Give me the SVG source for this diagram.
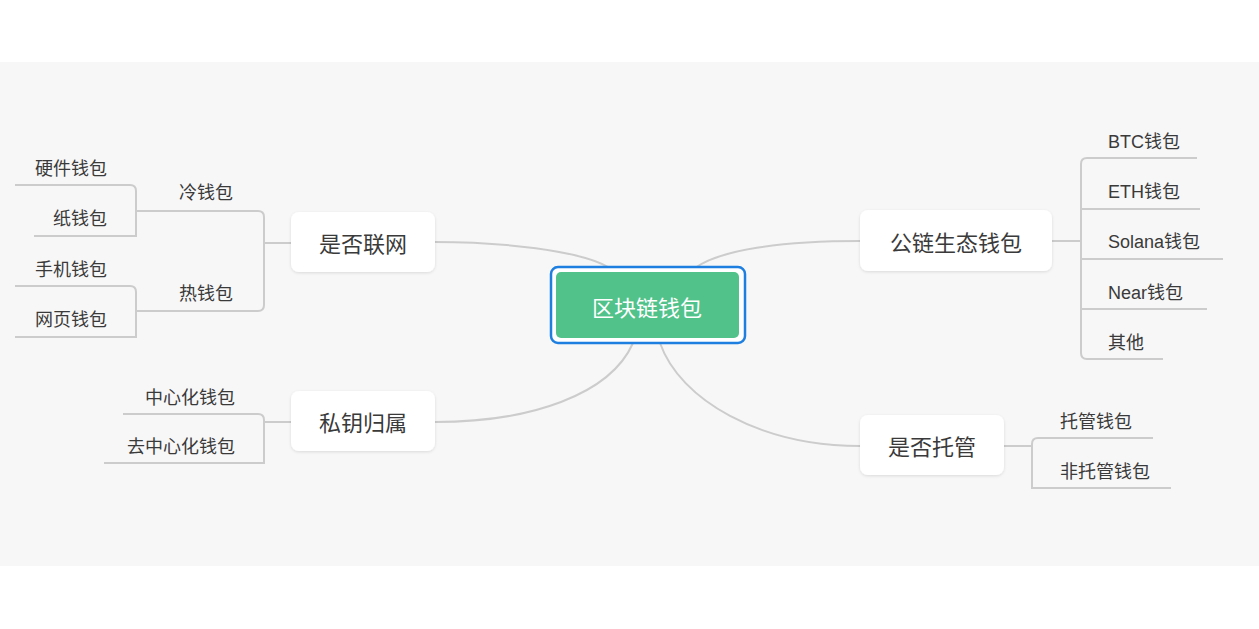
<svg xmlns="http://www.w3.org/2000/svg" width="1259" height="629" viewBox="0 0 1259 629">
<defs>
<style>
text{font-family:"Liberation Sans","Noto Sans CJK SC",sans-serif;fill:#3a3a3a}
.s{font-size:18px}
.m{font-size:22px}
.c{stroke:#cccccc;stroke-width:2;fill:none}
.b{fill:#fff;filter:url(#sh)}
</style>
<filter id="sh" x="-10%" y="-10%" width="120%" height="130%"><feDropShadow dx="0" dy="1" stdDeviation="1.5" flood-color="#000" flood-opacity="0.12"/></filter>
</defs>
<rect width="1259" height="629" fill="#fff"/>
<rect x="0" y="62" width="1259" height="504" fill="#f7f7f7"/>
<g id="connectors" class="c">
<path d="M610 268 C580 250 500 242 435 242"/>
<path d="M695 268 C720 250 780 241 860 241"/>
<path d="M633 343 C610 395 530 422 435 422"/>
<path d="M660 343 C680 400 760 446 860 446"/>
<path d="M291 243 H264 M137 211 H258 Q264 211 264 217 V305 Q264 311 258 311 H137"/>
<path d="M15 185 H130 Q136 185 136 191 V236 H34 M136 211 H137"/>
<path d="M15 286 H130 Q136 286 136 292 V337 H15"/>
<path d="M291 422 H264 M123 414 H258 Q264 414 264 420 V463 H104"/>
<path d="M1052 241 H1081 M1197 158 H1087 Q1081 158 1081 164 V353 Q1081 359 1087 359 H1163 M1081 209 H1200 M1081 259 H1223 M1081 309 H1207"/>
<path d="M1004 446 H1032 M1153 438 H1038 Q1032 438 1032 444 V488 H1171"/>
</g>
<g id="root">
<rect x="551" y="267" width="194" height="76" rx="7" fill="#fff" stroke="#1f7fe0" stroke-width="2.5"/>
<rect x="556" y="272" width="183" height="66" rx="5" fill="#50c28a"/>
<text x="647" y="316" text-anchor="middle" class="m" style="fill:#fff">区块链钱包</text>
</g>
<g id="n-online"><rect class="b" x="291" y="212" width="144" height="60" rx="8"/><text x="363" y="252" text-anchor="middle" class="m">是否联网</text></g>
<g id="n-key"><rect class="b" x="291" y="391" width="144" height="60" rx="8"/><text x="363" y="431" text-anchor="middle" class="m">私钥归属</text></g>
<g id="n-chain"><rect class="b" x="860" y="210" width="192" height="61" rx="8"/><text x="956" y="251" text-anchor="middle" class="m">公链生态钱包</text></g>
<g id="n-custody"><rect class="b" x="860" y="415" width="144" height="60" rx="8"/><text x="932" y="455" text-anchor="middle" class="m">是否托管</text></g>
<g id="leaves-left" class="s">
<text x="206" y="199" text-anchor="middle">冷钱包</text>
<text x="206" y="300" text-anchor="middle">热钱包</text>
<text x="107" y="175" text-anchor="end">硬件钱包</text>
<text x="107" y="225" text-anchor="end">纸钱包</text>
<text x="107" y="276" text-anchor="end">手机钱包</text>
<text x="107" y="326" text-anchor="end">网页钱包</text>
<text x="235" y="404" text-anchor="end">中心化钱包</text>
<text x="235" y="453" text-anchor="end">去中心化钱包</text>
</g>
<g id="leaves-right" class="s">
<text x="1108" y="148">BTC钱包</text>
<text x="1108" y="198">ETH钱包</text>
<text x="1108" y="248">Solana钱包</text>
<text x="1108" y="299">Near钱包</text>
<text x="1108" y="349">其他</text>
<text x="1060" y="428">托管钱包</text>
<text x="1060" y="478">非托管钱包</text>
</g>
</svg>
